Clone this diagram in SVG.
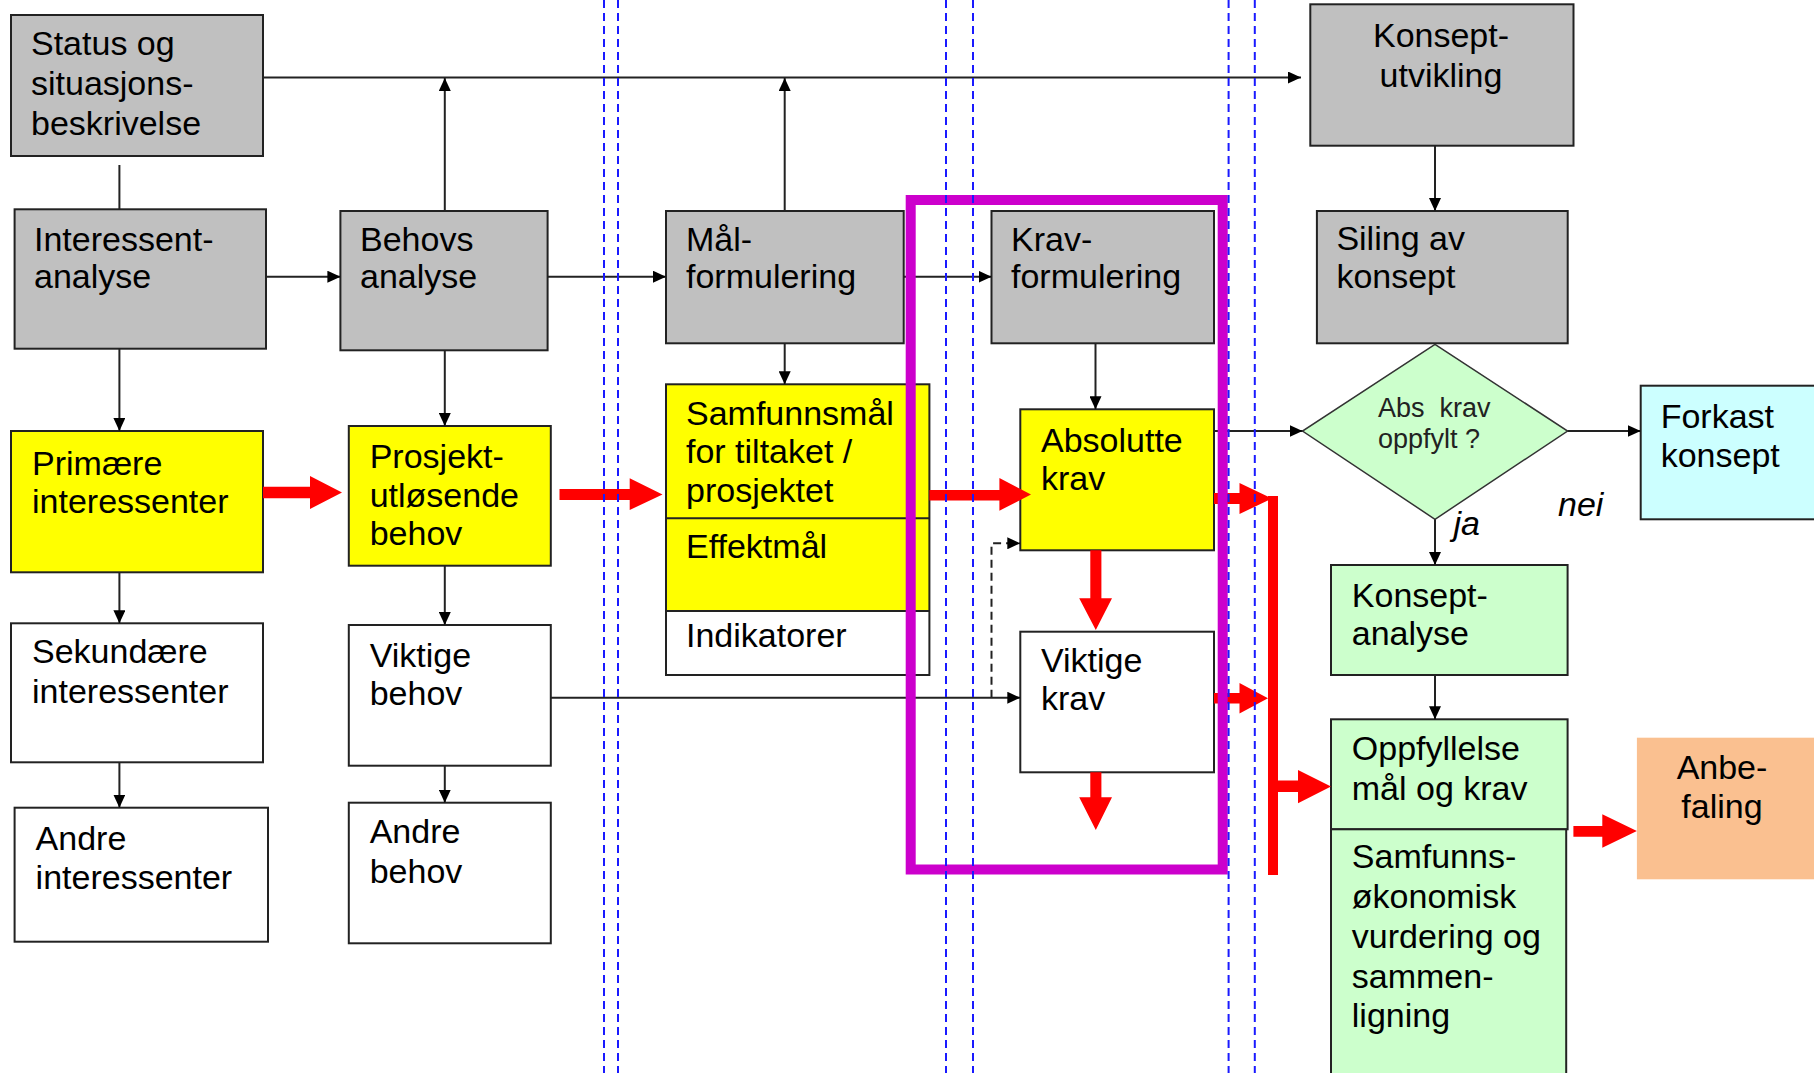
<svg xmlns="http://www.w3.org/2000/svg" width="1814" height="1073" viewBox="0 0 1814 1073">
<style>
text{font-family:"Liberation Sans",Arial,sans-serif;font-size:34px;fill:#000}
.g{fill:#c0c0c0;stroke:#222;stroke-width:2}
.y{fill:#ffff00;stroke:#222;stroke-width:2}
.w{fill:#fff;stroke:#222;stroke-width:2}
.gr{fill:#ccffcc;stroke:#222;stroke-width:2}
.c{fill:#ccffff;stroke:#222;stroke-width:2}
.ln{fill:none;stroke:#222;stroke-width:2}
.red{fill:#ff0000}
.blue{stroke:#1a1aff;stroke-width:2;stroke-dasharray:8 5;fill:none}
.it{font-style:italic}
.dt{font-size:27px;fill:#222}
</style>
<defs>
<marker id="ah" markerWidth="13" markerHeight="12" refX="13" refY="6" orient="auto" markerUnits="userSpaceOnUse"><path d="M0,0 L13,6 L0,12 z" fill="#000"/></marker>
</defs>
<rect width="1814" height="1073" fill="#fff"/>

<g id="nodes">
<g id="status"><rect class="g" x="11" y="15" width="252" height="141"/><text x="31" y="55">Status og</text><text x="31" y="95">situasjons-</text><text x="31" y="135">beskrivelse</text></g>
<g id="interessent"><rect class="g" x="14.6" y="209.3" width="251.4" height="139.4"/><text x="34" y="250.7">Interessent-</text><text x="34" y="288.3">analyse</text></g>
<g id="behovs"><rect class="g" x="340.4" y="211" width="207.2" height="139.3"/><text x="360" y="250.7">Behovs</text><text x="360" y="288.3">analyse</text></g>
<g id="mal"><rect class="g" x="666" y="211" width="237.7" height="132.3"/><text x="686" y="250.7">Mål-</text><text x="686" y="288.3">formulering</text></g>
<g id="kravform"><rect class="g" x="991.5" y="211" width="222.5" height="132.3"/><text x="1011" y="250.7">Krav-</text><text x="1011" y="288.3">formulering</text></g>
<g id="konseptutv"><rect class="g" x="1310.3" y="4.3" width="263.2" height="141.4"/><text x="1441" y="46.7" text-anchor="middle">Konsept-</text><text x="1441" y="86.7" text-anchor="middle">utvikling</text></g>
<g id="siling"><rect class="g" x="1316.9" y="211" width="250.8" height="132.3"/><text x="1336.4" y="250">Siling av</text><text x="1336.4" y="288.3">konsept</text></g>

<g id="primaere"><rect class="y" x="11" y="431" width="252" height="141.3"/><text x="32" y="475">Primære</text><text x="32" y="513.3">interessenter</text></g>
<g id="prosjekt"><rect class="y" x="348.8" y="426" width="202" height="139.7"/><text x="369.7" y="468.3">Prosjekt-</text><text x="369.7" y="506.7">utløsende</text><text x="369.7" y="545">behov</text></g>
<g id="samfunnsmal"><rect x="666" y="384.3" width="263.4" height="226.7" fill="#ffff00"/><rect x="666" y="611" width="263.4" height="64" fill="#fff"/><rect class="ln" x="666" y="384.3" width="263.4" height="290.7"/><line class="ln" x1="666" y1="518.3" x2="929.4" y2="518.3"/><line class="ln" x1="666" y1="611" x2="929.4" y2="611"/><text x="686" y="425">Samfunnsmål</text><text x="686" y="463.3">for tiltaket /</text><text x="686" y="501.7">prosjektet</text><text x="686" y="558.3">Effektmål</text><text x="686" y="646.7">Indikatorer</text></g>
<g id="absolutte"><rect class="y" x="1020.3" y="409.3" width="193.7" height="141"/><text x="1041" y="451.7">Absolutte</text><text x="1041" y="490">krav</text></g>

<g id="sekundaere"><rect class="w" x="11" y="623.3" width="252" height="139"/><text x="32" y="663.3">Sekundære</text><text x="32" y="702.7">interessenter</text></g>
<g id="viktigebehov"><rect class="w" x="348.8" y="625" width="202" height="140.7"/><text x="369.7" y="666.7">Viktige</text><text x="369.7" y="705">behov</text></g>
<g id="viktigekrav"><rect class="w" x="1020.3" y="631.7" width="193.7" height="140.6"/><text x="1041" y="671.7">Viktige</text><text x="1041" y="710">krav</text></g>
<g id="andreint"><rect class="w" x="14.6" y="807.7" width="253.4" height="134"/><text x="35.6" y="850">Andre</text><text x="35.6" y="889.3">interessenter</text></g>
<g id="andrebehov"><rect class="w" x="348.8" y="802.7" width="202" height="140.6"/><text x="369.7" y="843.3">Andre</text><text x="369.7" y="883.3">behov</text></g>

<g id="diamond"><polygon points="1435,344.3 1567.6,431 1435,519.3 1302.5,431" fill="#ccffcc" stroke="#333" stroke-width="1.5"/><text class="dt" x="1378" y="416.7">Abs&#160; krav</text><text class="dt" x="1378" y="448.3">oppfylt ?</text></g>
<g id="forkast"><rect class="c" x="1640.7" y="385.7" width="180" height="133.6"/><text x="1660.7" y="428.3">Forkast</text><text x="1660.7" y="466.7">konsept</text></g>
<g id="konseptanalyse"><rect class="gr" x="1331" y="565" width="236.6" height="110"/><text x="1351.8" y="606.7">Konsept-</text><text x="1351.8" y="645">analyse</text></g>
<g id="oppfyllelse"><rect class="gr" x="1331" y="719.3" width="236.6" height="110"/><text x="1351.8" y="760">Oppfyllelse</text><text x="1351.8" y="800">mål og krav</text></g>
<g id="samfunnsok"><rect class="gr" x="1331" y="829.3" width="235.2" height="260"/><text x="1351.8" y="868.3">Samfunns-</text><text x="1351.8" y="908">økonomisk</text><text x="1351.8" y="948">vurdering og</text><text x="1351.8" y="988">sammen-</text><text x="1351.8" y="1027">ligning</text></g>
<g id="anbefaling"><rect x="1636.9" y="737.7" width="185" height="141.6" fill="#fac090"/><text x="1722" y="779.3" text-anchor="middle">Anbe-</text><text x="1722" y="818.3" text-anchor="middle">faling</text></g>
</g>

<g id="connectors">
<path class="ln" d="M263,77.5 H1301" marker-end="url(#ah)"/>
<path class="ln" d="M444.8,211 V78" marker-end="url(#ah)"/>
<path class="ln" d="M784.7,211 V78" marker-end="url(#ah)"/>
<path class="ln" d="M119.4,165 V209.3" stroke="#666"/>
<path class="ln" d="M119.4,348.7 V431" marker-end="url(#ah)"/>
<path class="ln" d="M119.4,572.3 V623.3" marker-end="url(#ah)"/>
<path class="ln" d="M119.4,762.3 V807.7" marker-end="url(#ah)"/>
<path class="ln" d="M444.8,350.3 V426" marker-end="url(#ah)"/>
<path class="ln" d="M444.8,565.7 V625" marker-end="url(#ah)"/>
<path class="ln" d="M444.8,765.7 V802.7" marker-end="url(#ah)"/>
<path class="ln" d="M266,276.7 H340.4" marker-end="url(#ah)"/>
<path class="ln" d="M547.6,276.7 H666" marker-end="url(#ah)"/>
<path class="ln" d="M903.7,276.7 H991.5" marker-end="url(#ah)"/>
<path class="ln" d="M784.7,343.3 V384.3" marker-end="url(#ah)"/>
<path class="ln" d="M1095.5,343.3 V409.3" marker-end="url(#ah)"/>
<path class="ln" d="M550.8,697.7 H1020.3" marker-end="url(#ah)"/>
<path class="ln" d="M991.5,697.7 V543.3 H1020.3" stroke-dasharray="8 5" marker-end="url(#ah)"/>
<path class="ln" d="M1214,431 H1302.5" stroke-width="3" marker-end="url(#ah)"/>
<path class="ln" d="M1567.6,431 H1640.7" marker-end="url(#ah)"/>
<path class="ln" d="M1435,145.7 V211" marker-end="url(#ah)"/>
<path class="ln" d="M1435,519.3 V565" stroke-width="2.5" marker-end="url(#ah)"/>
<path class="ln" d="M1435,675 V719.3" marker-end="url(#ah)"/>

<polygon class="red" points="263,486.7 310,486.7 310,476 342,492.5 310,509 310,498.3 263,498.3"/>
<polygon class="red" points="559.5,489 629.7,489 629.7,478.3 662.5,494.5 629.7,510 629.7,500 559.5,500"/>
<polygon class="red" points="929.4,490 999.4,490 999.4,478 1031,494.5 999.4,510.7 999.4,500.5 929.4,500.5"/>
<polygon class="red" points="1090.3,550.3 1101.4,550.3 1101.4,598.3 1112,598.3 1095.8,630 1079.2,598.3 1090.3,598.3"/>
<polygon class="red" points="1090.3,772.3 1101.4,772.3 1101.4,797.3 1112,797.3 1095.8,830 1079.2,797.3 1090.3,797.3"/>
<polygon class="red" points="1214,493 1239.5,493 1239.5,483 1272,498.5 1239.5,514 1239.5,504 1214,504"/>
<polygon class="red" points="1214,693 1239.5,693 1239.5,683 1268,698.3 1239.5,713.5 1239.5,703.5 1214,703.5"/>
<rect class="red" x="1268" y="496" width="10" height="379"/>
<polygon class="red" points="1278,780.5 1298,780.5 1298,770 1331,786.5 1298,803.3 1298,792 1278,792"/>
<polygon class="red" points="1573.4,826 1602.3,826 1602.3,814.3 1636.9,831 1602.3,847.7 1602.3,836.7 1573.4,836.7"/>
</g>

<g id="frame">
<rect x="910.7" y="200" width="312" height="669.5" fill="none" stroke="#cc00cc" stroke-width="10"/>
</g>
<g id="lanes">
<line class="blue" x1="604" y1="0" x2="604" y2="1073"/>
<line class="blue" x1="618" y1="0" x2="618" y2="1073"/>
<line class="blue" x1="946" y1="0" x2="946" y2="1073"/>
<line class="blue" x1="973" y1="0" x2="973" y2="1073"/>
<line class="blue" x1="1228.6" y1="0" x2="1228.6" y2="1073"/>
<line class="blue" x1="1254.8" y1="0" x2="1254.8" y2="1073"/>
</g>
<g id="labels">
<text class="it" x="1453.5" y="535">ja</text>
<text class="it" x="1558" y="515.7">nei</text>
</g>
</svg>
